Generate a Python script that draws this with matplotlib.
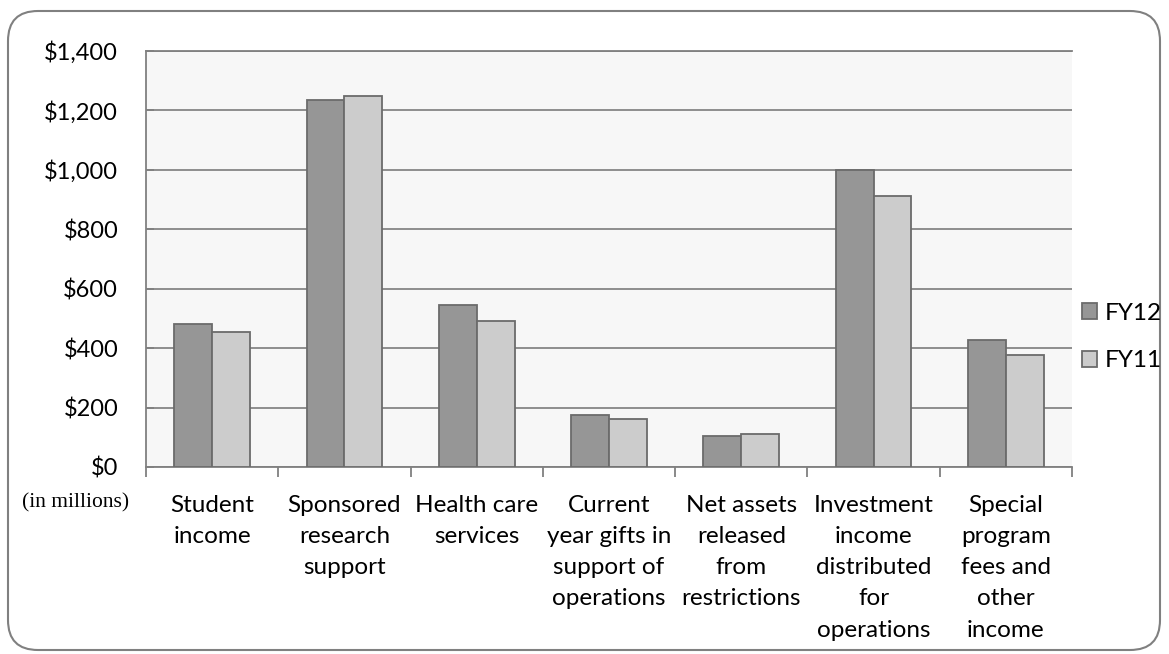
import matplotlib.pyplot as plt
import numpy as np
from matplotlib.patches import FancyBboxPatch
from matplotlib.ticker import FuncFormatter

# operating revenue by source, $ millions
categories = ['Student\nincome', 'Sponsored\nresearch\nsupport', 'Health care\nservices',
              'Current\nyear gifts in\nsupport of\noperations',
              'Net assets\nreleased\nfrom\nrestrictions',
              'Investment\nincome\ndistributed\nfor\noperations',
              'Special\nprogram\nfees and\nother\nincome']
fy12 = [480, 1234, 545, 175, 104, 1001, 427]
fy11 = [456, 1247, 492, 160, 111, 912, 376]
yticks = [0, 200, 400, 600, 800, 1000, 1200, 1400]

plt.rcParams['font.family'] = ['Lato', 'DejaVu Sans']
fs = 17.5

fig = plt.figure(figsize=(11.69, 6.54), dpi=100)
# rounded frame round the whole chart
frame = FancyBboxPatch((0.08, 0.04), 11.52, 6.39, boxstyle='round,pad=0,rounding_size=0.3',
                       transform=fig.dpi_scale_trans, facecolor='white', edgecolor='#808080',
                       linewidth=1.5, zorder=-5)
fig.patches.append(frame)

ax = fig.add_axes([146 / 1169, 1 - 467 / 654, (1072 - 146) / 1169, (467 - 51) / 654])
ax.set_facecolor('#f7f7f7')

x = np.arange(len(categories))
w = 1 / 3.5
ax.bar(x - w / 2, fy12, w, color='#969696', edgecolor='#6b6b6b', linewidth=1.3, label='FY12', zorder=3)
ax.bar(x + w / 2, fy11, w, color='#cccccc', edgecolor='#6b6b6b', linewidth=1.3, label='FY11', zorder=3)

ax.set_xlim(-0.5, len(categories) - 0.5)
ax.set_ylim(0, 1400)
ax.set_yticks(yticks)
ax.yaxis.set_major_formatter(FuncFormatter(lambda v, p: '${:,.0f}'.format(v)))
ax.grid(axis='y', color='#868686', linewidth=1.3, zorder=1)

# category labels between boundary ticks
ax.set_xticks(np.arange(len(categories) + 1) - 0.5)
ax.set_xticklabels([])
ax.set_xticks(x, minor=True)
ax.set_xticklabels(categories, minor=True, fontsize=fs, linespacing=1.6, va='top')
ax.tick_params(axis='x', which='major', direction='out', length=7, color='#808080', width=1.3)
ax.tick_params(axis='x', which='minor', length=0, pad=20)
ax.tick_params(axis='y', direction='in', length=6, color='#808080', width=1.3, pad=20, labelsize=17)

ax.spines['right'].set_visible(False)
for s in ['left', 'bottom', 'top']:
    ax.spines[s].set_color('#808080')
    ax.spines[s].set_linewidth(1.3)

fig.text(76 / 1169, 1 - 503 / 654, '(in millions)', family='Liberation Serif', fontsize=15.5,
         ha='center', va='center')

ax.legend(loc='center left', bbox_to_anchor=(1082 / 1169, 1 - 337 / 654),
          bbox_transform=fig.transFigure, frameon=False, fontsize=fs, borderpad=0, borderaxespad=0,
          handlelength=0.62, handleheight=0.62, handletextpad=0.3, labelspacing=1.1)

fig.savefig('out.png', dpi=100)
